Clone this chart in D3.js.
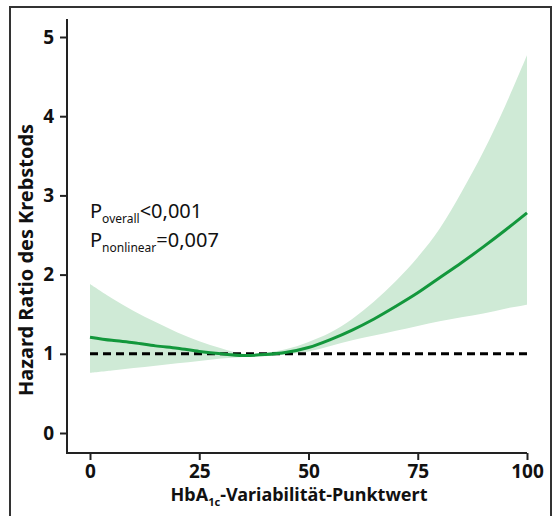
<!DOCTYPE html>
<html>
<head>
<meta charset="utf-8">
<script src="https://cdn.jsdelivr.net/npm/d3@7"></script>
<style>
  html, body { margin: 0; padding: 0; background: #fff; }
  svg { display: block; }
  text { font-family: "Noto Sans", "Open Sans", sans-serif; }
</style>
</head>
<body>
<script>
// ---- data ----
const xValues     = [0, 5, 10, 15, 20, 25, 30, 35, 40, 45, 50, 55, 60, 65, 70, 75, 80, 85, 90, 95, 100];
const hrValues    = [1.21, 1.17, 1.14, 1.10, 1.07, 1.03, 1.00, 0.98, 0.99, 1.02, 1.08, 1.18, 1.30, 1.44, 1.60, 1.77, 1.96, 2.15, 2.35, 2.56, 2.78];
const upperValues = [1.88, 1.70, 1.54, 1.40, 1.27, 1.16, 1.07, 1.00, 1.01, 1.06, 1.15, 1.27, 1.44, 1.66, 1.92, 2.22, 2.58, 3.04, 3.55, 4.13, 4.77];
const lowerValues = [0.76, 0.79, 0.82, 0.85, 0.88, 0.91, 0.94, 0.96, 0.97, 0.99, 1.03, 1.10, 1.17, 1.23, 1.29, 1.35, 1.41, 1.46, 1.51, 1.57, 1.62];
const xTicks = [0, 25, 50, 75, 100];
const yTicks = [0, 1, 2, 3, 4, 5];
const referenceHR = [1];

const W = 556, H = 516;
const svg = d3.select("body").append("svg").attr("width", W).attr("height", H);

// outer frame
svg.append("rect").attr("x", 10).attr("y", 7).attr("width", 541).attr("height", 530)
  .attr("fill", "none").attr("stroke", "#333").attr("stroke-width", 2);

const x = d3.scaleLinear().domain([0, 100]).range([90, 527]);
const y = d3.scaleLinear().domain([0, 5]).range([433, 37]);

const rows = xValues.map((v, i) => ({ x: v, hr: hrValues[i], lo: lowerValues[i], hi: upperValues[i] }));

// confidence band
svg.append("path").datum(rows)
  .attr("fill", "#cfead6")
  .attr("d", d3.area().x(d => x(d.x)).y0(d => y(d.lo)).y1(d => y(d.hi)).curve(d3.curveCatmullRom));

// reference line
svg.selectAll(".ref").data(referenceHR).enter().append("line")
  .attr("x1", x(0)).attr("x2", x(100)).attr("y1", d => y(d)).attr("y2", d => y(d))
  .attr("stroke", "#000").attr("stroke-width", 3).attr("stroke-dasharray", "8,5");

// HR line
svg.append("path").datum(rows)
  .attr("fill", "none").attr("stroke", "#13973c").attr("stroke-width", 3)
  .attr("d", d3.line().x(d => x(d.x)).y(d => y(d.hr)).curve(d3.curveCatmullRom));

// axes
const yAxis = svg.append("g").attr("transform", "translate(67,0)")
  .call(d3.axisLeft(y).tickValues(yTicks).tickSize(7).tickPadding(6).tickFormat(d3.format("d")));
yAxis.select(".domain").remove();
yAxis.selectAll(".tick line").attr("stroke", "#222").attr("stroke-width", 2);
yAxis.selectAll(".tick text").attr("font-size", 19).attr("font-weight", "bold").attr("fill", "#111")
  .style("font-family", "'Noto Sans', sans-serif");

const xAxis = svg.append("g").attr("transform", "translate(0,453)")
  .call(d3.axisBottom(x).tickValues(xTicks).tickSize(7).tickPadding(5).tickFormat(d3.format("d")));
xAxis.select(".domain").remove();
xAxis.selectAll(".tick line").attr("stroke", "#222").attr("stroke-width", 2);
xAxis.selectAll(".tick text").attr("font-size", 19).attr("font-weight", "bold").attr("fill", "#111")
  .style("font-family", "'Noto Sans', sans-serif");

// axis lines (L shape)
svg.append("path").attr("d", "M67,19 V453 H527").attr("fill", "none")
  .attr("stroke", "#222").attr("stroke-width", 2);

// axis titles
const xt = svg.append("text").attr("x", 299).attr("y", 501).attr("text-anchor", "middle")
  .attr("font-size", 18).attr("font-weight", "bold").attr("fill", "#111");
xt.append("tspan").text("HbA");
xt.append("tspan").attr("font-size", 11).attr("dy", 5).text("1c");
xt.append("tspan").attr("dy", -5).text("-Variabilität-Punktwert");

svg.append("text").attr("transform", "translate(33,260) rotate(-90)").attr("text-anchor", "middle")
  .attr("font-size", 19).attr("font-weight", "bold").attr("fill", "#111")
  .attr("textLength", 272).attr("lengthAdjust", "spacingAndGlyphs")
  .text("Hazard Ratio des Krebstods");

// p-values annotation
const p1 = svg.append("text").attr("x", 90).attr("y", 218).attr("font-size", 20).attr("fill", "#111");
p1.append("tspan").text("P");
p1.append("tspan").attr("font-size", 12).attr("dy", 5).text("overall");
p1.append("tspan").attr("dy", -5).text("<0,001");

const p2 = svg.append("text").attr("x", 90).attr("y", 247).attr("font-size", 20).attr("fill", "#111");
p2.append("tspan").text("P");
p2.append("tspan").attr("font-size", 12).attr("dy", 5).text("nonlinear");
p2.append("tspan").attr("dy", -5).text("=0,007");
</script>
</body>
</html>
